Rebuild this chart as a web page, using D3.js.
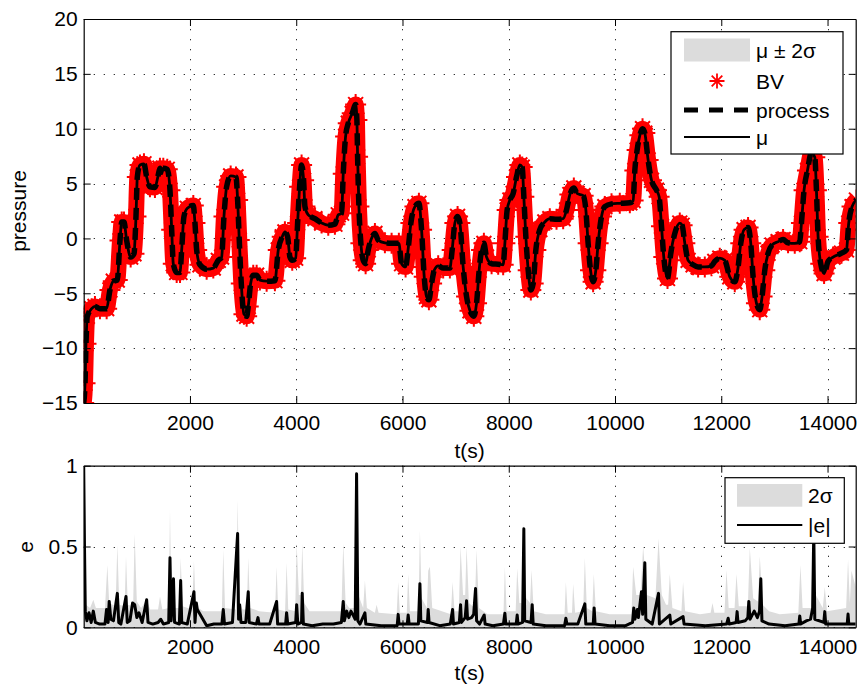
<!DOCTYPE html>
<html><head><meta charset="utf-8">
<script src="https://cdn.jsdelivr.net/npm/d3@7"></script>
<style>
body{margin:0;background:#fff;}
svg text{font-family:"Liberation Sans",Arial,Helvetica,sans-serif;}
</style></head><body>
<svg id="chart" width="860" height="684"></svg>
<script>
// ---------- data ----------
const xTicks = [2000, 4000, 6000, 8000, 10000, 12000, 14000];
const topYTicks = [-15, -10, -5, 0, 5, 10, 15, 20];
const bottomYTicks = [0, 0.5, 1];
const xDomain = [0, 14530];
const topYDomain = [-15, 20];
const bottomYDomain = [0, 1];

// process (t, pressure)
const processPoints = [
[0,-15],[25,-13.2],[43,-9.6],[68,-7.1],[150,-6.4],[212,-6.2],[306,-6.4],[432,-6.4],[494,-4.7],[557,-3.9],[632,-3.8],[683,-0.2],[715,1.5],[758,1.5],[809,-0.2],[884,-1.7],[946,-1.4],[984,2.0],[1009,5.6],[1059,6.7],[1134,6.8],[1185,5.6],[1247,4.7],[1341,4.65],[1404,5.8],[1435,6.4],[1467,5.9],[1498,6.4],[1573,6.3],[1624,4.4],[1656,0.8],[1686,-2.3],[1750,-3.1],[1812,-3.1],[1844,-1.05],[1887,2.0],[1950,2.75],[2063,3.0],[2094,1.4],[2126,-1.05],[2188,-2.4],[2314,-2.8],[2439,-2.7],[2533,-2.0],[2596,-1.7],[2640,2.0],[2690,4.7],[2766,5.7],[2866,5.6],[2897,3.5],[2928,-0.15],[2966,-4.1],[3016,-6.9],[3067,-7.1],[3097,-6.2],[3142,-4.1],[3191,-3.35],[3255,-3.35],[3317,-3.8],[3443,-3.9],[3599,-3.85],[3662,-1.05],[3737,0.15],[3787,0.6],[3838,0.15],[3882,-1.7],[3925,-2.0],[3989,-1.8],[4026,1.4],[4064,4.7],[4101,6.7],[4139,5.3],[4164,2.9],[4226,2.15],[4352,1.8],[4478,1.4],[4603,1.2],[4728,1.3],[4791,2.15],[4854,2.3],[4885,5.9],[4929,9.3],[4979,10.5],[5054,11.4],[5118,12.2],[5142,10.8],[5155,7.45],[5180,2.9],[5217,-0.45],[5261,-2.0],[5306,-2.3],[5355,-1.05],[5430,0.15],[5481,0.45],[5543,-0.15],[5669,-0.4],[5795,-0.45],[5932,-0.45],[5983,-2.3],[6058,-2.6],[6108,-0.9],[6158,1.4],[6234,2.9],[6309,3.2],[6359,0.8],[6409,-3.5],[6453,-5.3],[6497,-5.6],[6548,-4.1],[6598,-2.9],[6672,-2.5],[6766,-2.7],[6892,-2.7],[6935,-1.05],[6986,1.4],[7037,2.0],[7080,1.4],[7142,-2.6],[7206,-5.3],[7270,-6.6],[7343,-7.1],[7394,-5.9],[7443,-2.9],[7488,-1.05],[7532,-0.45],[7582,-1.7],[7677,-2.3],[7801,-2.35],[7895,-2.4],[7927,-0.45],[7970,2.6],[8021,3.5],[8083,4.1],[8146,5.6],[8209,6.7],[8253,6.5],[8284,3.8],[8322,0.15],[8366,-2.9],[8416,-4.7],[8460,-4.1],[8510,-1.05],[8585,0.8],[8679,1.5],[8773,1.8],[8899,1.75],[9024,1.8],[9087,2.6],[9150,4.0],[9225,4.6],[9287,4.1],[9400,3.9],[9451,2.6],[9494,-0.45],[9539,-2.9],[9588,-3.95],[9639,-2.9],[9682,-0.45],[9746,2.0],[9808,2.9],[9934,3.15],[10090,3.2],[10279,3.25],[10341,3.45],[10373,6.2],[10416,8.05],[10467,9.4],[10518,10.0],[10561,9.6],[10623,7.15],[10687,5.3],[10781,4.4],[10830,3.8],[10875,1.1],[10918,-1.7],[10988,-3.65],[11050,-1.35],[11125,0.45],[11219,1.4],[11263,1.2],[11314,-0.45],[11376,-2.0],[11470,-2.4],[11564,-2.6],[11690,-2.6],[11816,-2.5],[11878,-2.1],[11972,-1.8],[12066,-2.0],[12160,-3.5],[12254,-3.95],[12317,-2.6],[12367,-0.45],[12429,0.8],[12504,1.0],[12555,-0.45],[12599,-3.5],[12662,-5.9],[12724,-6.5],[12768,-5.3],[12819,-2.9],[12881,-1.35],[12956,-0.6],[13069,-0.3],[13163,-0.1],[13257,-0.4],[13383,-0.45],[13477,-0.3],[13509,1.4],[13558,4.4],[13622,6.2],[13697,7.8],[13760,7.4],[13791,4.4],[13822,0.15],[13872,-2.3],[13935,-3.2],[14010,-2.1],[14104,-1.7],[14262,-1.35],[14356,-1.05],[14399,1.4],[14461,2.9],[14543,3.5]
];
const muPoints = processPoints;      // posterior mean coincides with the process
const bvPoints = processPoints;      // basis vectors along the trajectory
const topBandHalfWidth = 0.25;       // mu +/- 2 sigma (hidden under BV markers)

// 2 sigma (t, value)
const twoSigmaPoints = [
[0,0.35],[40,0.14],[120,0.12],[181,0.17],[230,0.12],[400,0.12],[445,0.385],[480,0.15],[600,0.13],[633,0.51],[670,0.14],[770,0.13],[796,0.44],[830,0.14],[930,0.13],[959,0.58],[1000,0.16],[1080,0.12],[1185,0.17],[1250,0.11],[1400,0.11],[1436,0.19],[1480,0.11],[1600,0.12],[1624,0.73],[1650,0.16],[1720,0.12],[1800,0.12],[1825,0.43],[1860,0.13],[2040,0.11],[2075,0.41],[2110,0.13],[2250,0.1],[2600,0.1],[2627,0.48],[2660,0.12],[2870,0.11],[2897,0.79],[2930,0.16],[2990,0.11],[3070,0.11],[3097,0.43],[3130,0.12],[3300,0.1],[3600,0.09],[3631,0.375],[3660,0.11],[3790,0.1],[3819,0.40],[3850,0.11],[3980,0.1],[4008,0.52],[4050,0.2],[4090,0.2],[4113,0.52],[4150,0.15],[4250,0.1],[4500,0.1],[4850,0.1],[4885,0.52],[4930,0.15],[5000,0.12],[5110,0.12],[5136,0.58],[5170,0.2],[5260,0.12],[5293,0.29],[5330,0.12],[5480,0.09],[5513,0.14],[5550,0.09],[5890,0.08],[5919,0.28],[5950,0.09],[6080,0.09],[6107,0.33],[6140,0.1],[6300,0.1],[6328,0.6],[6360,0.18],[6460,0.12],[6484,0.35],[6516,0.375],[6560,0.12],[6910,0.08],[6943,0.28],[6980,0.1],[7060,0.1],[7093,0.5],[7140,0.2],[7180,0.2],[7206,0.5],[7250,0.15],[7360,0.12],[7394,0.48],[7440,0.12],[7600,0.08],[7900,0.08],[7927,0.375],[7960,0.1],[8130,0.1],[8159,0.365],[8200,0.15],[8260,0.15],[8284,0.65],[8330,0.18],[8400,0.15],[8429,0.355],[8470,0.1],[8700,0.08],[9050,0.08],[9075,0.28],[9110,0.09],[9190,0.09],[9212,0.27],[9250,0.09],[9400,0.1],[9432,0.43],[9470,0.12],[9570,0.1],[9601,0.33],[9640,0.1],[9900,0.08],[10310,0.08],[10341,0.375],[10400,0.2],[10480,0.2],[10529,0.5],[10600,0.2],[10760,0.18],[10819,0.55],[10880,0.2],[10960,0.14],[11000,0.14],[11031,0.33],[11080,0.12],[11250,0.1],[11281,0.28],[11320,0.1],[11600,0.08],[11800,0.09],[11834,0.15],[11870,0.09],[12060,0.09],[12098,0.355],[12140,0.12],[12250,0.12],[12286,0.33],[12330,0.13],[12500,0.13],[12537,0.49],[12600,0.18],[12690,0.16],[12725,0.44],[12780,0.14],[12900,0.1],[13100,0.08],[13450,0.09],[13490,0.385],[13530,0.12],[13690,0.12],[13728,0.55],[13780,0.2],[13910,0.12],[13948,0.25],[13990,0.1],[14350,0.12],[14386,0.42],[14420,0.15],[14450,0.35],[14530,0.25]
];

// |e| (t, value)
const errorPoints = [
[0,1.0],[15,0.5],[30,0.1],[60,0.04],[100,0.09],[140,0.03],[181,0.1],[220,0.03],[300,0.02],[400,0.02],[430,0.11],[460,0.03],[480,0.16],[510,0.05],[560,0.04],[633,0.21],[660,0.03],[700,0.02],[796,0.19],[820,0.03],[870,0.04],[920,0.15],[960,0.14],[1000,0.06],[1040,0.09],[1100,0.03],[1185,0.17],[1210,0.03],[1300,0.02],[1400,0.03],[1450,0.05],[1500,0.02],[1600,0.03],[1624,0.43],[1645,0.04],[1690,0.3],[1710,0.03],[1800,0.02],[1825,0.29],[1845,0.03],[1950,0.02],[2075,0.22],[2095,0.03],[2120,0.15],[2138,0.11],[2314,0.01],[2450,0.02],[2600,0.02],[2627,0.11],[2650,0.02],[2800,0.03],[2897,0.58],[2915,0.05],[2935,0.14],[2960,0.03],[3050,0.03],[3097,0.22],[3115,0.03],[3250,0.02],[3280,0.06],[3300,0.02],[3500,0.02],[3631,0.16],[3650,0.02],[3800,0.02],[3819,0.09],[3840,0.02],[3990,0.03],[4008,0.14],[4030,0.02],[4100,0.03],[4113,0.21],[4135,0.02],[4300,0.01],[4500,0.02],[4700,0.02],[4850,0.03],[4885,0.16],[4905,0.04],[4950,0.1],[4990,0.06],[5030,0.1],[5080,0.07],[5110,0.05],[5136,0.95],[5160,0.04],[5200,0.02],[5293,0.09],[5310,0.02],[5600,0.01],[5900,0.01],[5919,0.08],[5935,0.02],[6090,0.02],[6107,0.076],[6125,0.02],[6300,0.02],[6328,0.27],[6345,0.04],[6470,0.03],[6484,0.11],[6500,0.03],[6700,0.01],[6900,0.02],[6943,0.11],[6960,0.02],[7070,0.03],[7093,0.14],[7110,0.03],[7180,0.06],[7206,0.165],[7225,0.05],[7300,0.06],[7340,0.08],[7375,0.24],[7395,0.04],[7450,0.02],[7538,0.076],[7555,0.02],[7700,0.01],[7900,0.02],[7927,0.087],[7945,0.02],[8140,0.02],[8159,0.076],[8175,0.02],[8260,0.03],[8284,0.61],[8300,0.04],[8420,0.03],[8441,0.14],[8460,0.02],[8700,0.01],[9050,0.01],[9075,0.056],[9095,0.02],[9300,0.02],[9432,0.145],[9450,0.02],[9590,0.02],[9607,0.12],[9625,0.02],[9900,0.01],[10200,0.01],[10330,0.03],[10353,0.12],[10375,0.05],[10420,0.11],[10440,0.06],[10498,0.22],[10520,0.08],[10561,0.4],[10580,0.05],[10700,0.02],[10819,0.21],[10835,0.02],[11031,0.076],[11050,0.02],[11281,0.066],[11300,0.02],[11700,0.01],[12100,0.02],[12130,0.056],[12150,0.02],[12280,0.03],[12298,0.097],[12315,0.03],[12450,0.04],[12500,0.06],[12518,0.16],[12540,0.05],[12620,0.1],[12680,0.06],[12720,0.1],[12744,0.30],[12765,0.04],[12900,0.02],[13200,0.01],[13460,0.02],[13477,0.07],[13495,0.02],[13600,0.04],[13680,0.05],[13720,0.12],[13741,0.6],[13760,0.05],[13930,0.03],[13948,0.097],[13965,0.02],[14200,0.02],[14370,0.02],[14386,0.082],[14400,0.02],[14530,0.02]
];

const topLegendLabels = ["\u03bc \u00b1 2\u03c3", "BV", "process", "\u03bc"];
const bottomLegendLabels = ["2\u03c3", "|e|"];
const xLabel = "t(s)";
const topYLabel = "pressure";
const bottomYLabel = "e";

// ---------- layout ----------
const FS = 21;
const PL = 83.7, PR = 855.7;
const TOP = {y0: 19, y1: 403};
const BOT = {y0: 465.7, y1: 627.3};
const svg = d3.select("#chart");

const x = d3.scaleLinear().domain(xDomain).range([PL, PR]);
const yTop = d3.scaleLinear().domain(topYDomain).range([TOP.y1, TOP.y0]);
const yBot = d3.scaleLinear().domain(bottomYDomain).range([BOT.y1, BOT.y0]);

function clip(id, y0, y1) {
  svg.append("clipPath").attr("id", id).append("rect")
    .attr("x", PL).attr("y", y0).attr("width", PR - PL).attr("height", y1 - y0);
}
clip("clipTop", TOP.y0, TOP.y1);
clip("clipBot", BOT.y0, BOT.y1);

function grid(y, yTicks, box) {
  const g = svg.append("g").attr("stroke", "#333").attr("stroke-width", 1)
    .attr("stroke-dasharray", "1.3 8.7").attr("fill", "none");
  g.selectAll("line.v").data(xTicks).enter().append("line")
    .attr("x1", d => Math.round(x(d)) + 0.5).attr("x2", d => Math.round(x(d)) + 0.5)
    .attr("y1", box.y0).attr("y2", box.y1);
  g.selectAll("line.h").data(yTicks).enter().append("line")
    .attr("y1", d => Math.round(y(d)) + 0.5).attr("y2", d => Math.round(y(d)) + 0.5)
    .attr("x1", PL).attr("x2", PR);
}

function frame(y, yTicks, box, fmt) {
  const style = g => {
    g.attr("font-size", FS).attr("font-family", "Liberation Sans, Arial, sans-serif");
    g.selectAll("path").attr("stroke", "#000").attr("stroke-width", 1.2);
    g.selectAll("line").attr("stroke", "#000").attr("stroke-width", 1);
    g.selectAll("text").attr("fill", "#000");
  };
  svg.append("g").attr("transform", `translate(0,${box.y1})`)
    .call(d3.axisBottom(x).tickValues(xTicks).tickSize(-7).tickSizeOuter(0).tickPadding(12).tickFormat(d3.format("d")))
    .call(style);
  svg.append("g").attr("transform", `translate(0,${box.y0})`)
    .call(d3.axisTop(x).tickValues(xTicks).tickSize(-7).tickSizeOuter(0).tickFormat(""))
    .call(style);
  svg.append("g").attr("transform", `translate(${PL},0)`)
    .call(d3.axisLeft(y).tickValues(yTicks).tickSize(-7).tickSizeOuter(0).tickPadding(6).tickFormat(fmt))
    .call(style);
  svg.append("g").attr("transform", `translate(${PR},0)`)
    .call(d3.axisRight(y).tickValues(yTicks).tickSize(-7).tickSizeOuter(0).tickFormat(""))
    .call(style);
}

function asterisk(cx, cy, r) {
  const a = r * Math.SQRT1_2;
  return `M${cx - r},${cy}L${cx + r},${cy}M${cx},${cy - r}L${cx},${cy + r}` +
         `M${cx - a},${cy - a}L${cx + a},${cy + a}M${cx - a},${cy + a}L${cx + a},${cy - a}`;
}

// ---------- top plot ----------
grid(yTop, topYTicks, TOP);
const gTop = svg.append("g").attr("clip-path", "url(#clipTop)");
const lineTop = d3.line().x(d => x(d[0])).y(d => yTop(d[1])).curve(d3.curveMonotoneX);
gTop.append("path").datum(muPoints)
  .attr("d", d3.area().x(d => x(d[0])).y0(d => yTop(d[1] - topBandHalfWidth))
    .y1(d => yTop(d[1] + topBandHalfWidth)).curve(d3.curveMonotoneX))
  .attr("fill", "#dcdcdc");
gTop.append("path").datum(bvPoints).attr("d", lineTop)
  .attr("fill", "none").attr("stroke", "#ff0000").attr("stroke-width", 16).attr("stroke-linejoin", "round");
gTop.append("path")
  .attr("d", bvPoints.map(d => asterisk(x(d[0]), yTop(d[1]), 10.5)).join(""))
  .attr("fill", "none").attr("stroke", "#ff0000").attr("stroke-width", 2);
gTop.append("path").datum(processPoints).attr("d", lineTop)
  .attr("fill", "none").attr("stroke", "#000").attr("stroke-width", 5.5).attr("stroke-dasharray", "12 8");
gTop.append("path").datum(muPoints).attr("d", lineTop)
  .attr("fill", "none").attr("stroke", "#000").attr("stroke-width", 2.8);
frame(yTop, topYTicks, TOP, d3.format("d"));

// ---------- bottom plot ----------
grid(yBot, bottomYTicks, BOT);
const gBot = svg.append("g").attr("clip-path", "url(#clipBot)");
gBot.append("path").datum(twoSigmaPoints)
  .attr("d", d3.area().x(d => x(d[0])).y0(yBot(0)).y1(d => yBot(d[1])))
  .attr("fill", "#dcdcdc");
gBot.append("path").datum(errorPoints)
  .attr("d", d3.line().x(d => x(d[0])).y(d => yBot(d[1])))
  .attr("fill", "none").attr("stroke", "#000").attr("stroke-width", 3).attr("stroke-linejoin", "round");
frame(yBot, bottomYTicks, BOT, d3.format(""));

// ---------- axis titles ----------
const cx = (PL + PR) / 2;
svg.append("text").attr("x", cx).attr("y", 458).attr("text-anchor", "middle").attr("font-size", FS).text(xLabel);
svg.append("text").attr("x", cx).attr("y", 680).attr("text-anchor", "middle").attr("font-size", FS).text(xLabel);
svg.append("text").attr("transform", "translate(26,211) rotate(-90)").attr("text-anchor", "middle").attr("font-size", FS).text(topYLabel);
svg.append("text").attr("transform", "translate(33,547) rotate(-90)").attr("text-anchor", "middle").attr("font-size", FS).text(bottomYLabel);

// ---------- legends ----------
const lt = svg.append("g");
lt.append("rect").attr("x", 671).attr("y", 31.7).attr("width", 172).attr("height", 122.3)
  .attr("fill", "#fff").attr("stroke", "#000").attr("stroke-width", 1.2);
const rowsY = [50, 81, 110, 137];
lt.append("rect").attr("x", 684).attr("y", 38.5).attr("width", 66).attr("height", 23).attr("fill", "#dcdcdc");
lt.append("path").attr("d", asterisk(717, rowsY[1], 7.5)).attr("stroke", "#ff0000").attr("stroke-width", 1.8).attr("fill", "none");
lt.append("line").attr("x1", 684).attr("x2", 750).attr("y1", rowsY[2]).attr("y2", rowsY[2])
  .attr("stroke", "#000").attr("stroke-width", 5).attr("stroke-dasharray", "14 11");
lt.append("line").attr("x1", 684).attr("x2", 750).attr("y1", rowsY[3]).attr("y2", rowsY[3])
  .attr("stroke", "#000").attr("stroke-width", 2.2);
lt.selectAll("text").data(topLegendLabels).enter().append("text")
  .attr("x", 756).attr("y", (d, i) => rowsY[i]).attr("dy", "0.36em").attr("font-size", FS).text(d => d);

const lb = svg.append("g");
lb.append("rect").attr("x", 725).attr("y", 477.7).attr("width", 119.3).attr("height", 65.6)
  .attr("fill", "#fff").attr("stroke", "#000").attr("stroke-width", 1.2);
lb.append("rect").attr("x", 737).attr("y", 484).attr("width", 65.3).attr("height", 22.7).attr("fill", "#dcdcdc");
lb.append("line").attr("x1", 737).attr("x2", 802.3).attr("y1", 525).attr("y2", 525)
  .attr("stroke", "#000").attr("stroke-width", 2.2);
lb.selectAll("text").data(bottomLegendLabels).enter().append("text")
  .attr("x", 808).attr("y", (d, i) => [495, 525][i]).attr("dy", "0.36em").attr("font-size", FS).text(d => d);
</script>
</body></html>
